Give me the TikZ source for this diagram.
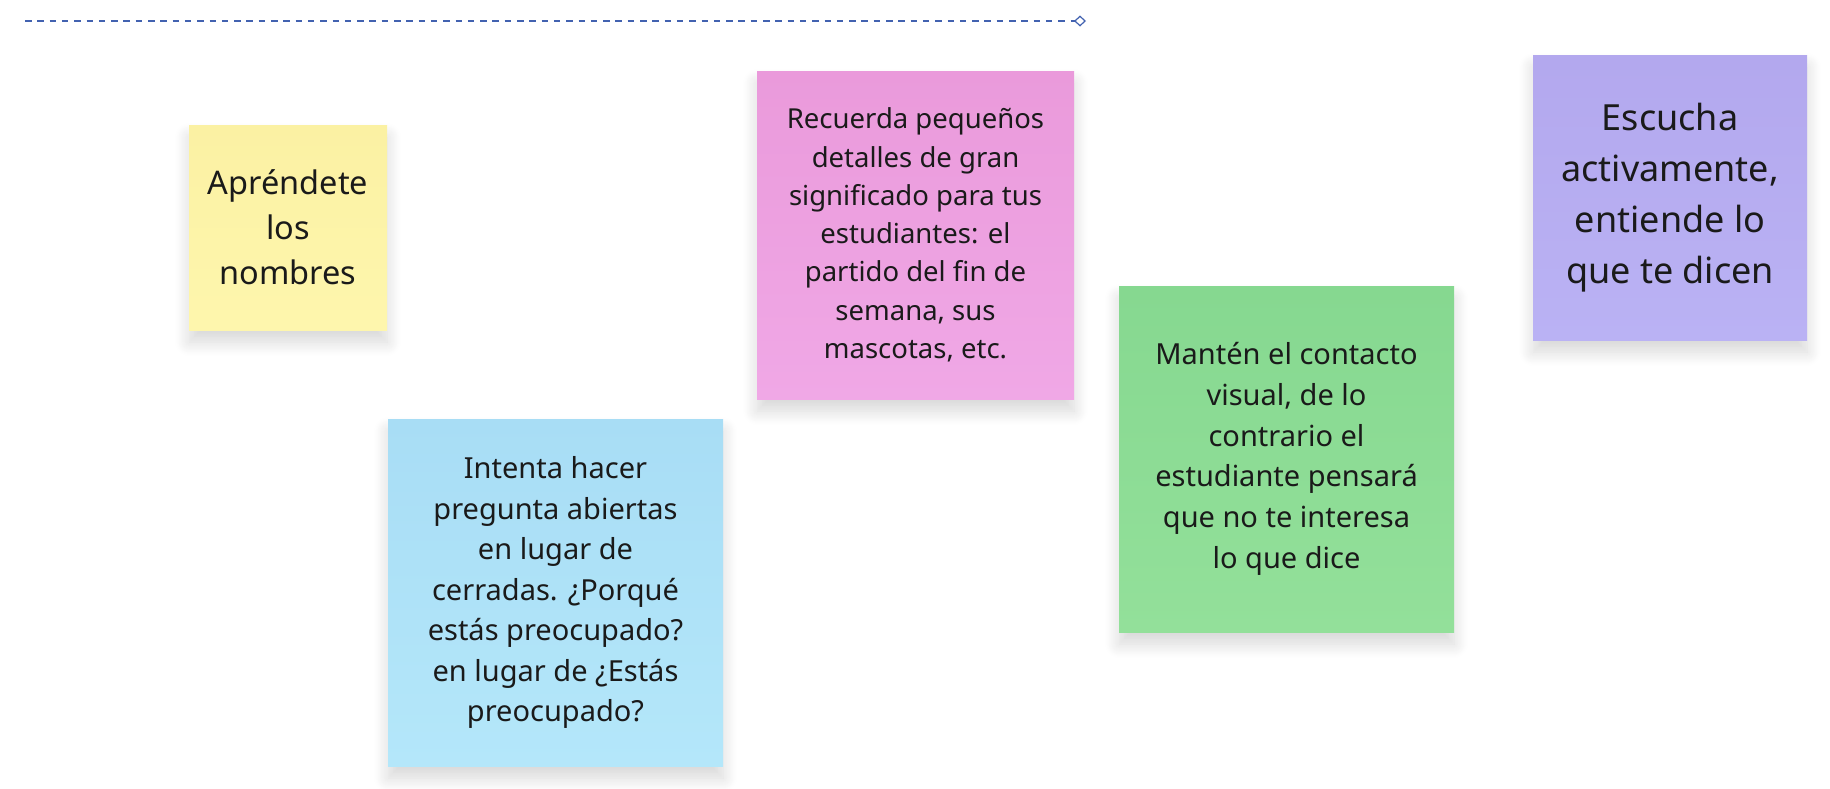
\documentclass[tikz,border=0pt]{standalone}
\usepackage{fontspec}
\setmainfont{Noto Sans}
\usepackage{xcolor}
\usetikzlibrary{arrows.meta, shadows.blur}
\definecolor{inkblack}{HTML}{1A1A1A}
\definecolor{linkblue}{HTML}{4262B0}
\tikzset{
	note/.style={rectangle, inner sep=0pt, align=center, text=inkblack,
		blur shadow={shadow xshift=0pt, shadow yshift=-12pt, shadow blur radius=14pt, shadow blur steps=16, shadow opacity=16}},
	fs/.style 2 args={font=\fontsize{#1}{#2}\selectfont},
}

\begin{document}
\begin{tikzpicture}[x=1pt, y=-1pt]
			\useasboundingbox (0,0) rectangle (1830,788);
			\coordinate (linkA) at (25,21);
			\coordinate (linkB) at (1086,21);
			\draw[linkblue, line width=1.3pt, dash pattern=on 6.5pt off 5.8pt, -{Diamond[open, fill=white, length=12pt, width=11pt, line width=1.2pt]}] (linkA) -- (linkB);
			\node[note, minimum width=198pt, minimum height=205pt, top color={rgb,255:red,251;green,241;blue,163}, bottom color={rgb,255:red,254;green,246;blue,173}, fs={32.5}{45}] (nombres) at (288,227.5) {Apréndete\\los\\nombres};%
			\node[note, minimum width=317pt, minimum height=328pt, top color={rgb,255:red,234;green,154;blue,219}, bottom color={rgb,255:red,240;green,168;blue,230}, fs={27.5}{38.3}] (detalles) at (915.5,235) {Recuerda pequeños\\detalles de gran\\significado para tus\\estudiantes: el\\partido del fin de\\semana, sus\\mascotas, etc.};%
			\node[note, minimum width=335pt, minimum height=347pt, top color={rgb,255:red,168;green,221;blue,245}, bottom color={rgb,255:red,180;green,231;blue,250}, fs={29}{40.5}] (preguntas) at (555.5,592.5) {Intenta hacer\\pregunta abiertas\\en lugar de\\cerradas. ¿Porqué\\estás preocupado?\\en lugar de ¿Estás\\preocupado?};%
			\node[note, minimum width=335pt, minimum height=346pt, top color={rgb,255:red,134;green,216;blue,144}, bottom color={rgb,255:red,147;green,224;blue,154}, fs={29}{40.7}] (contacto) at (1286.5,459) {Mantén el contacto\\visual, de lo\\contrario el\\estudiante pensará\\que no te interesa\\lo que dice};%
			\node[note, minimum width=274pt, minimum height=285pt, top color={rgb,255:red,179;green,168;blue,238}, bottom color={rgb,255:red,186;green,178;blue,244}, fs={36}{51}] (escucha) at (1670,197.5) {Escucha\\activamente,\\entiende lo\\que te dicen};%
		\end{tikzpicture}
\end{document}
